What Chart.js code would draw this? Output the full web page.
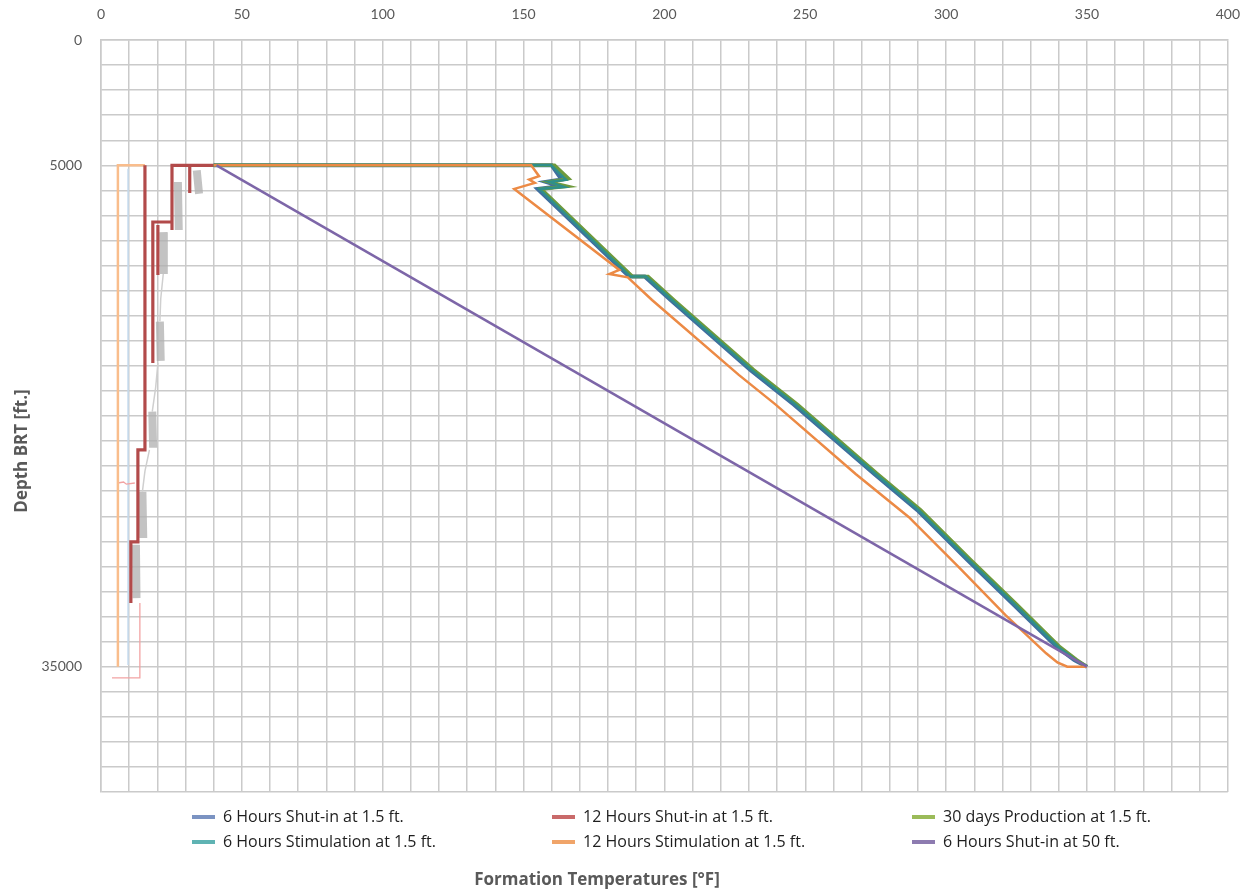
<!DOCTYPE html>
<html>
<head>
<meta charset="utf-8">
<script src="https://cdn.jsdelivr.net/npm/chart.js@4.4.1/dist/chart.umd.min.js"></script>
<style>
  html, body { margin: 0; padding: 0; background: #fff; }
</style>
</head>
<body>
<canvas id="chart" width="1257" height="894"></canvas>
<script>
// axis labels
const xLabelTemps = [0, 50, 100, 150, 200, 250, 300, 350, 400];
const yLabelDepths = [-2500, 5000, 35000];
const yLabelTexts = ['0', '5000', '35000'];

// 6 Hours Shut-in at 1.5 ft.
const blueTemp  = [40, 160, 163.5, 158, 163, 155, 186.2, 187.5, 193, 202.2, 230.5, 246, 274.5, 289.7, 307.5, 324, 339.3, 345.5, 350];
const blueDepth = [5000, 5000, 5850, 5990, 6250, 6410, 11450, 11650, 11650, 13060, 17240, 19320, 23470, 25620, 28600, 31300, 33820, 34600, 35000];

// 12 Hours Shut-in at 1.5 ft. (stepped profile, null = break)
const redTemp  = [40.4, 25.2, 25.2, null, 31.5, 31.5, null, 25.2, 18.4, 18.4, null, 20.2, 20.2, null, 15.6, 15.6, 13.1, 13.1, 10.6, 10.6];
const redDepth = [5000, 5000, 8870, null, 5000, 6650, null, 8390, 8390, 16830, null, 8570, 11560, null, 5000, 22030, 22030, 27530, 27530, 31190];

// 30 days Production at 1.5 ft.
const greenTemp  = [40, 161, 166, 159, 165.5, 156.3, 187.4, 188.7, 194.2, 203.4, 231.7, 247.3, 275.7, 290.9, 308.7, 325.2, 340.4, 346.4, 350];
const greenDepth = [5000, 5000, 5800, 5990, 6250, 6410, 11450, 11650, 11650, 13060, 17240, 19320, 23470, 25620, 28600, 31300, 33820, 34600, 35000];

// 6 Hours Stimulation at 1.5 ft.
const tealTemp  = [40, 159.8, 165.1, 159.1, 164.4, 155.6, 186.7, 188, 193.5, 202.7, 231, 246.6, 275, 290.2, 308, 324.6, 339.8, 346, 350];
const tealDepth = [5000, 5000, 5870, 5990, 6290, 6410, 11450, 11650, 11650, 13060, 17240, 19320, 23470, 25620, 28600, 31300, 33820, 34600, 35000];

// 12 Hours Stimulation at 1.5 ft.
const orangeTemp  = [40, 152.7, 155.5, 152, 154, 146.7, 184, 180.5, 187, 195.6, 226.4, 239.5, 267.9, 286.7, 304.4, 321, 335.5, 339.5, 343, 350];
const orangeDepth = [5000, 5000, 5650, 5850, 6050, 6410, 11260, 11500, 11700, 13060, 17540, 19320, 23470, 26040, 29030, 31900, 34200, 34750, 35000, 35000];

// 6 Hours Shut-in at 50 ft.
const purpleTemp  = [41, 350];
const purpleDepth = [5000, 35000];

// unlabelled traces near the surface
const paleOrangeTemp  = [6, 6, 15.6];
const paleOrangeDepth = [35000, 5000, 5000];
const paleBlueTemp  = [9.6, 9.6];
const paleBlueDepth = [5200, 34900];
const pinkTemp  = [13.8, 13.8, 3.9, null, 6, 8, 9, 12];
const pinkDepth = [31190, 35670, 35670, null, 24010, 23950, 24080, 24010];
const grayTemp  = [34, 34.8, null, 27.3, 27.6, null, 22.1, 22.3, null, 20.9, 21.2, null, 18.2, 18.5, null, 14.7, 15, null, 12.4, 12.6];
const grayDepth = [5300, 6700, null, 6000, 8870, null, 9000, 11500, null, 14350, 16700, null, 19740, 21900, null, 24530, 27300, null, 27700, 30900];
const grayThinTemp  = [22.1, 21.2, 20.9, null, 20.2, 19.4, 18.2, null, 17.2, 15.6, 14.7];
const grayThinDepth = [11500, 13000, 14350, null, 16830, 18300, 19740, null, 22030, 23300, 24530];

const pts = (t, d) => t.map((v, i) => ({ x: v, y: d[i] }));

const line = (label, t, d, color, width, order) => ({
    label: label,
    data: pts(t, d),
    borderColor: color,
    backgroundColor: color,
    borderWidth: width,
    showLine: true,
    pointRadius: 0,
    spanGaps: false,
    order: order
});

const datasets = [
    line('Gray', grayTemp, grayDepth, 'rgba(175,175,175,0.75)', 8, 9),
    line('Gray thin', grayThinTemp, grayThinDepth, '#cfcfcf', 1.5, 8),
    line('Pale blue', paleBlueTemp, paleBlueDepth, '#c5dbee', 1.5, 10),
    line('Pale orange', paleOrangeTemp, paleOrangeDepth, '#f9bd8c', 2.5, 7),
    line('Pink', pinkTemp, pinkDepth, '#f2a3a3', 1.3, 7),
    line('6 Hours Shut-in at 1.5 ft.', blueTemp, blueDepth, '#3f6f9f', 4, 5),
    line('12 Hours Shut-in at 1.5 ft.', redTemp, redDepth, '#b24a4a', 3.2, 6),
    line('30 days Production at 1.5 ft.', greenTemp, greenDepth, '#6f9a3c', 3.5, 4),
    line('6 Hours Stimulation at 1.5 ft.', tealTemp, tealDepth, '#2f8f8a', 2.5, 3),
    line('12 Hours Stimulation at 1.5 ft.', orangeTemp, orangeDepth, '#ec8a45', 2.5, 2),
    line('6 Hours Shut-in at 50 ft.', purpleTemp, purpleDepth, '#7d66a8', 2.5, 1)
];

// legend entries (Excel order, filled row by row) and their swatch colours
const legendOrder = [
    '6 Hours Shut-in at 1.5 ft.', '12 Hours Shut-in at 1.5 ft.', '30 days Production at 1.5 ft.',
    '6 Hours Stimulation at 1.5 ft.', '12 Hours Stimulation at 1.5 ft.', '6 Hours Shut-in at 50 ft.'
];
const legendColors = ['#7b93c2', '#c96a6a', '#9bbb59', '#5fb3b3', '#f0a469', '#8d7bb0'];

const gridColor = '#cacaca';
const textGray = '#595959';

// legend table and axis titles (x axis sits on top, its title at the bottom)
const extrasPlugin = {
    id: 'extras',
    afterDraw(chart) {
        const ctx = chart.ctx;
        const area = chart.chartArea;
        ctx.save();
        const colX = [192, 552, 912];
        const rowY = [area.bottom + 25, area.bottom + 50];
        ctx.font = '16px "Open Sans"';
        ctx.textBaseline = 'middle';
        ctx.textAlign = 'left';
        legendOrder.forEach((name, i) => {
            const cx = colX[i % 3];
            const cy = rowY[Math.floor(i / 3)];
            ctx.strokeStyle = legendColors[i];
            ctx.lineWidth = 4;
            ctx.beginPath();
            ctx.moveTo(cx, cy);
            ctx.lineTo(cx + 23, cy);
            ctx.stroke();
            ctx.fillStyle = '#1e1e1e';
            ctx.fillText(name, cx + 31, cy);
        });
        ctx.fillStyle = textGray;
        ctx.font = 'bold 17px "Open Sans"';
        ctx.textAlign = 'center';
        ctx.fillText('Formation Temperatures [°F]', 597, 880);
        ctx.translate(22, 451);
        ctx.rotate(-Math.PI / 2);
        ctx.fillText('Depth BRT [ft.]', 0, 0);
        ctx.restore();
    }
};

new Chart(document.getElementById('chart'), {
    type: 'scatter',
    data: { datasets: datasets },
    options: {
        responsive: false,
        animation: false,
        layout: { padding: { left: 0, top: 0, right: 27, bottom: 102 } },
        plugins: {
            legend: { display: false },
            tooltip: { enabled: false },
            title: { display: false }
        },
        scales: {
            x: {
                type: 'linear',
                position: 'top',
                min: 0,
                max: 400,
                afterFit: s => { s.height = 40; },
                ticks: {
                    stepSize: 10,
                    autoSkip: false,
                    maxRotation: 0,
                    padding: 17,
                    color: textGray,
                    font: { family: 'Lato', size: 14 },
                    callback: v => xLabelTemps.includes(v) ? String(v) : ''
                },
                grid: { color: gridColor, lineWidth: 1.5, drawTicks: false },
                border: { color: gridColor, width: 1.5 }
            },
            y: {
                type: 'linear',
                reverse: true,
                min: -2500,
                max: 42500,
                afterFit: s => { s.width = 101; },
                ticks: {
                    stepSize: 1500,
                    autoSkip: false,
                    padding: 19,
                    color: textGray,
                    font: { family: 'Lato', size: 14 },
                    callback: v => {
                        const i = yLabelDepths.indexOf(v);
                        return i < 0 ? '' : yLabelTexts[i];
                    }
                },
                grid: { color: gridColor, lineWidth: 1.5, drawTicks: false },
                border: { color: gridColor, width: 1.5 }
            }
        }
    },
    plugins: [extrasPlugin]
});
</script>
</body>
</html>
